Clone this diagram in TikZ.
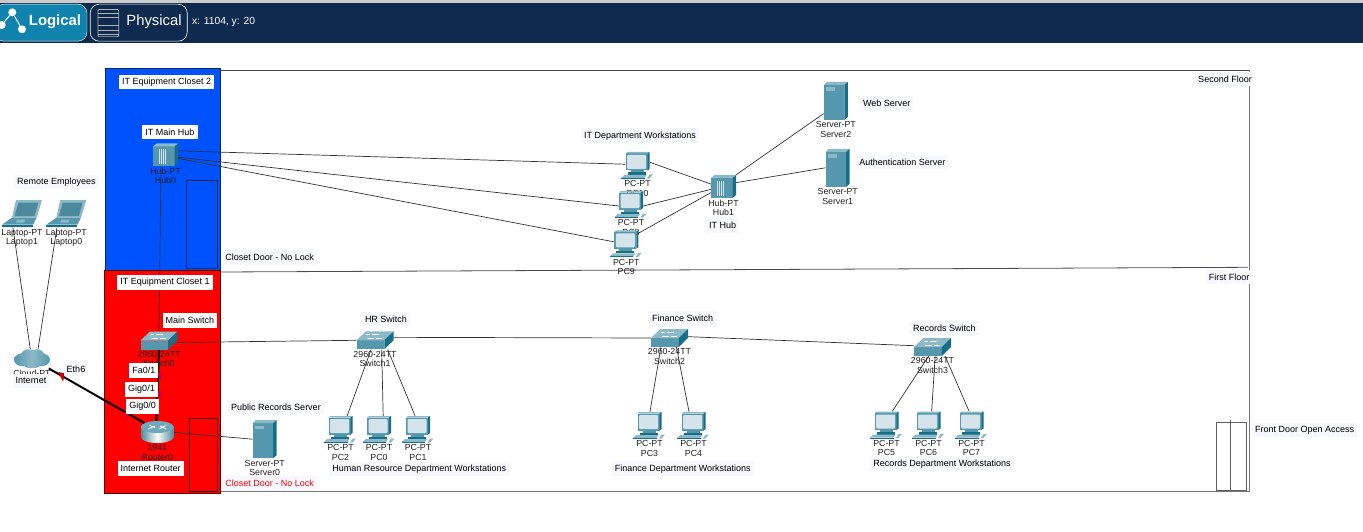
\documentclass[tikz,border=0pt]{standalone}
\usepackage{fontspec}
\setmainfont{Liberation Sans}
\usetikzlibrary{positioning}
\definecolor{barnavy}{HTML}{0E2A4F}
\definecolor{barteal}{HTML}{0F82AE}
\definecolor{closetblue}{HTML}{0052FF}
\definecolor{closetred}{HTML}{FF0000}
\definecolor{labelbg}{HTML}{F7F8FD}
\definecolor{devfront}{HTML}{5598AE}
\definecolor{devside}{HTML}{176F87}
\definecolor{devtop}{HTML}{8CB9C8}
\definecolor{devscreen}{HTML}{D5E4EA}
\definecolor{linkgray}{HTML}{333333}
\definecolor{floorgray}{HTML}{777777}
\newcommand*{\labelfont}{\fontsize{9}{10}\selectfont}
\newcommand*{\devicelist}{%
  Laptop1/22/213.7/laptop/{Laptop-PT\\Laptop1},
  Laptop0/66.3/213.7/laptop/{Laptop-PT\\Laptop0},
  Cloud0/32/358.8/cloud/{Cloud-PT},
  Hub0/165.5/155/hub/{Hub-PT\\Hub0},
  Switch0/159/340.5/switch/{2960-24TT\\Switch0},
  Router0/157.3/432/router/{1941\\Router0},
  Server0/264.7/439.2/server/{Server-PT\\Server0},
  Server2/835.8/101/server/{Server-PT\\Server2},
  Server1/837.7/167.8/server/{Server-PT\\Server1},
  Hub1/723.5/186.5/hub/{Hub-PT\\Hub1},
  PC10/637.5/165.5/pc/{PC-PT\\PC10},
  PC8/631/204.5/pc/{PC-PT\\PC8},
  PC9/626.3/243.8/pc/{PC-PT\\PC9},
  Switch1/375/340.3/switch/{2960-24TT\\Switch1},
  Switch2/669.5/338/switch/{2960-24TT\\Switch2},
  Switch3/932.5/347/switch/{2960-24TT\\Switch3},
  PC2/340.5/429.5/pc/{PC-PT\\PC2},
  PC0/379/429.5/pc/{PC-PT\\PC0},
  PC1/418/429.5/pc/{PC-PT\\PC1},
  PC3/649.5/425.5/pc/{PC-PT\\PC3},
  PC4/693.5/425.5/pc/{PC-PT\\PC4},
  PC5/886.5/425/pc/{PC-PT\\PC5},
  PC6/928.5/425/pc/{PC-PT\\PC6},
  PC7/971.5/425/pc/{PC-PT\\PC7}}

\begin{document}
\begin{tikzpicture}
        [x=1pt,y=-1pt,
          devicedecorate/.style={shape=rectangle,inner sep=0pt},
          pcdecorate/.style={devicedecorate,minimum width=24pt,minimum height=27pt},
          serverdecorate/.style={devicedecorate,minimum width=24pt,minimum height=38pt},
          hubdecorate/.style={devicedecorate,minimum width=25pt,minimum height=23pt},
          switchdecorate/.style={devicedecorate,minimum width=37pt,minimum height=18pt},
          routerdecorate/.style={devicedecorate,minimum width=25pt,minimum height=22pt},
          laptopdecorate/.style={devicedecorate,minimum width=40pt,minimum height=27.4pt},
          clouddecorate/.style={devicedecorate,minimum width=36pt,minimum height=19pt},
          linedecorate/.style={-,line width=0.7pt,draw=linkgray},
          thicklinedecorate/.style={-,line width=2pt,draw=black},
          floordecorate/.style={line width=0.8pt,draw=floorgray},
          doordecorate/.style={line width=0.7pt,draw=black!75},
          captiondecorate/.style={font=\fontsize{8.8}{9.3}\selectfont,align=center,
            inner sep=0pt,text=black!88},
          whitelabel/.style={font=\labelfont,fill=white,inner xsep=3pt,inner ysep=0pt,
            minimum height=14.5pt},
          lightlabel/.style={whitelabel,fill=labelbg},
          pics/pcicon/.style={code={
            \fill[devfront] (-12,-12) rectangle (10,5);
            \fill[devtop] (-12,-12) -- (-10,-13.5) -- (12,-13.5) -- (10,-12) -- cycle;
            \fill[devside] (10,-12) -- (12,-13.5) -- (12,3.5) -- (10,5) -- cycle;
            \fill[devscreen,rounded corners=1pt] (-10.5,-10.5) rectangle (8.5,3.5);
            \fill[devfront] (-7,5) rectangle (6,7);
            \fill[devside] (-10,7) rectangle (8,9.5);
            \fill[devtop] (-13,9.5) -- (9,9.5) -- (7,12.5) -- (-16.5,12.5) -- cycle;
            \fill[devside] (-16.5,12.5) rectangle (7,13.5);
            \fill[devtop] (12,9) -- (15.5,9) -- (12,13) -- (9.5,13) -- cycle;
          }},
          pics/servericon/.style={code={
            \fill[devfront] (-12,-16) rectangle (8.5,19);
            \fill[devtop] (-12,-16) -- (-9,-19) -- (12,-19) -- (8.5,-16) -- cycle;
            \fill[devside] (8.5,-16) -- (12,-19) -- (12,16) -- (8.5,19) -- cycle;
            \fill[devtop] (-9.5,-13.5) rectangle (-1,-10);
          }},
          pics/hubicon/.style={code={
            \fill[devfront] (-12.5,-8.5) rectangle (9,11.5);
            \fill[devtop] (-12.5,-8.5) -- (-9,-11.5) -- (12.5,-11.5) -- (9,-8.5) -- cycle;
            \fill[devside] (9,-8.5) -- (12.5,-11.5) -- (12.5,8.5) -- (9,11.5) -- cycle;
            \foreach \barx in {-6,-4,-2,0}
            {
              \draw[devscreen,line width=0.5pt] (\barx,-6) -- (\barx,9);
            }
          }},
          pics/switchicon/.style={code={
            \fill[devfront] (-18.5,0) rectangle (9.3,9);
            \fill[devtop] (-18.5,0) -- (-9,-9) -- (18.5,-9) -- (9.3,0) -- cycle;
            \fill[devside] (9.3,0) -- (18.5,-9) -- (18.5,0) -- (9.3,9) -- cycle;
            \draw[white,line width=0.5pt] (-8,-2) -- (-1,-2) (-3,-6) -- (4,-6) (1,-2) -- (7,-2) (-9,-6) -- (-5,-6);
          }},
          pics/routericon/.style={code={
            \shade[left color=devfront!90!black,right color=devfront!90!black,middle color=white]
              (-16.5,-5) -- (-16.5,5) arc[x radius=16.5,y radius=6,start angle=180,end angle=0,y=1pt]
              -- (16.5,-5) -- cycle;
            \fill[devfront!85!white] (0,-5) ellipse[x radius=16.5,y radius=6];
            \draw[white,line width=0.8pt] (-9,-3) -- (-2,-6) (2,-3) -- (9,-7) (-8,-7) -- (-2,-4) (3,-6) -- (9,-3);
          }},
          pics/laptopicon/.style={code={
            \fill[devtop] (-6,-13.7) -- (20,-13.7) -- (14.7,4) -- (-10,4) -- cycle;
            \fill[devfront!90!black] (-3.5,-11) -- (16.5,-11) -- (12.5,2.5) -- (-7.5,2.5) -- cycle;
            \fill[devfront] (-10,4) -- (14.7,4) -- (11,11) -- (-20,11) -- cycle;
            \fill[devside] (-20,11) -- (11,11) -- (11,13.7) -- (-20,13.7) -- cycle;
            \fill[devtop] (-5,6) -- (3,6) -- (2,9) -- (-6,9) -- cycle;
          }},
          pics/cloudicon/.style={code={
            \shade[left color=devfront,right color=devfront,middle color=devtop]
              (-9,1) ellipse[x radius=9,y radius=6.5]
              (9,1) ellipse[x radius=9,y radius=6.5]
              (-3,-4) ellipse[x radius=8,y radius=5.5]
              (5,-4) ellipse[x radius=7,y radius=5.5]
              (0,4) ellipse[x radius=10,y radius=5.5];
          }}]
        \useasboundingbox (0,0) rectangle (1363,532);
        %% top bar
        \fill[black!20] (0,0) rectangle (1363,3);
        \fill[barnavy] (0,3) rectangle (1363,43);
        \node (logicalbtn) at (41,22.7) [draw=white,fill=barteal,rounded corners=9pt,
          minimum width=92pt,minimum height=37pt,inner sep=0pt] {};
        \node (physicalbtn) at (138.7,22.7) [draw=white,rounded corners=9pt,line width=0.6pt,
          minimum width=97pt,minimum height=37pt,inner sep=0pt] {};
        \foreach \nodename/\x/\y in {dotA/12.3/12.3, dotB/22/29.3, dotC/1.7/25}
        {
          \node (\nodename) at (\x,\y) [shape=circle,fill=white,minimum size=8pt,inner sep=0pt] {};
        }
        \draw[white,line width=1pt] (dotC) -- (dotA) -- (dotB);
        \draw[black!30,line width=0.6pt,rounded corners=1pt] (98,9.5) rectangle (118.7,36.7);
        \foreach \y in {13,17,25,30,34}
        {
          \draw[black!30,line width=0.6pt] (98,\y) -- (118.7,\y);
        }
        \node (logicaltext) at (55,22) [text=white,font=\fontsize{14.9}{16}\selectfont\bfseries,inner sep=0pt] {Logical};
        \node (physicaltext) at (154,22) [text=white,font=\fontsize{14.8}{16}\selectfont,inner sep=0pt] {Physical};
        \node (coordtext) at (223.5,21.5) [text=white,font=\fontsize{10.3}{12}\selectfont,inner sep=0pt] {x: 1104, y: 20};
        %% floors and closets
        \draw[line width=0.8pt,draw=black!70] (220,70.3) -- (1250,70.3);
        \draw[line width=0.8pt,draw=black!70] (220,272) -- (1248,267.3);
        \draw[floordecorate] (220,491.7) -- (1249.7,491.7) -- (1249.7,70.3);
        \fill[closetblue] (105.3,68.3) rectangle (220.7,271.7);
        \draw[line width=0.8pt,draw=barnavy] (105.3,68.3) rectangle (220.7,271.7);
        \draw[line width=0.7pt,draw=barnavy] (186.3,180) rectangle (217.3,268.3);
        \fill[closetred] (104.7,270.7) rectangle (220.7,493.3);
        \draw[line width=0.8pt,draw=black!70!red] (104.7,270.7) rectangle (220.7,493.3);
        \draw[doordecorate,draw=black!70!red] (189.3,418.3) rectangle (217.3,491.7);
        \draw[doordecorate,draw=floorgray!80!black] (1216.7,422.3) rectangle (1246.7,490);
        \draw[doordecorate,draw=floorgray!80!black] (1230.7,420) -- (1230.7,490);
        %% nodes or vertices
        \foreach \nodename/\x/\y/\kind/\captiontext in \devicelist
        {
          \node (\nodename) at (\x,\y) [\kind decorate] {};
        }
        %% edges or lines
        \path
        \foreach \startnode/\endnode in {Laptop1.-123/Cloud0.100, Laptop0.-124/Cloud0.58,
          Hub0.-111/Switch0.90, Switch0.-6/Switch1.180, Switch1.9/Switch2.180,
          Switch2.4/Switch3.176, Router0.0/Server0.180,
          Hub0.18/PC10.174, Hub0.-10/PC8.-173, Hub0.-15/PC9.171,
          PC10.15/Hub1.169, PC8.-7/Hub1.193, PC9.41/Hub1.206,
          Hub1.43/Server2.-134, Hub1.17/Server1.180,
          Switch1.-113/PC2.64, Switch1.-54/PC0.73, Switch1.-36/PC1.102,
          Switch2.-133/PC3.88, Switch2.-53/PC4.108,
          Switch3.-113/PC5.67, Switch3.-74/PC6.77, Switch3.-36/PC7.100}
        {
          (\startnode) edge[linedecorate] (\endnode)
        };
        \path
        \foreach \startnode/\endnode in {Cloud0.-30/Router0.145, Switch0.-90/Router0.95}
        {
          (\startnode) edge[thicklinedecorate] (\endnode)
        };
        %% link lights
        \fill[red!80!black] (58.3,372) -- (65,373.5) -- (63,381.7) -- cycle;
        \foreach \x/\y in {157/373, 157/391.5, 123.5/412}
        {
          \fill[purple!70!red] (\x,\y) -- ++(6,0) -- ++(-2.5,7.5) -- cycle;
        }
        %% device icons and captions
        \foreach \nodename/\x/\y/\kind/\captiontext in \devicelist
        {
          \pic at (\nodename) {\kind icon};
          \node (cap\nodename) [below=1.4pt of \nodename,captiondecorate] {\captiontext};
        }
        %% labels
        \foreach \nodename/\x/\y/\labeltext in {closet2/166.7/82/{IT Equipment Closet 2},
          mainhub/170/132/{IT Main Hub}, closet1/165/282.5/{IT Equipment Closet 1},
          mainswitch/190/320.5/{Main Switch}, fa01/143.8/370.5/{Fa0/1},
          gig01/141.5/389.5/{Gig0/1}, gig00/142.7/406.3/{Gig0/0},
          internetrouter/150.7/468.3/{Internet Router}}
        {
          \node (\nodename) at (\x,\y) [whitelabel] {\labeltext};
        }
        \foreach \nodename/\x/\y/\labeltext in {remote/56.3/182/{Remote Employees},
          door2/269.7/257.7/{Closet Door - No Lock}, secondfloor/1225/79/{Second Floor},
          firstfloor/1229/277/{First Floor}, itdept/640/135.7/{IT Department Workstations},
          webserver/886.7/103.7/{Web Server}, authserver/902.3/162/{Authentication Server},
          ithub/722.7/225.7/{IT Hub}, publicserver/276/407/{Public Records Server},
          eth6/76/369/{Eth6}, internet/31/380.8/{Internet},
          hrswitch/386/319/{HR Switch}, financeswitch/682.7/318.7/{Finance Switch},
          recordsswitch/944.3/328/{Records Switch},
          hrdept/419.3/469/{Human Resource Department Workstations},
          financedept/682.7/468.7/{Finance Department Workstations},
          recordsdept/942/463.7/{Records Department Workstations},
          frontdoor/1304.7/430/{Front Door Open Access}}
        {
          \node (\nodename) at (\x,\y) [lightlabel] {\labeltext};
        }
        \node (door1) at (269.7,483.7) [lightlabel,text=red] {Closet Door - No Lock};
        \end{tikzpicture}
\end{document}
